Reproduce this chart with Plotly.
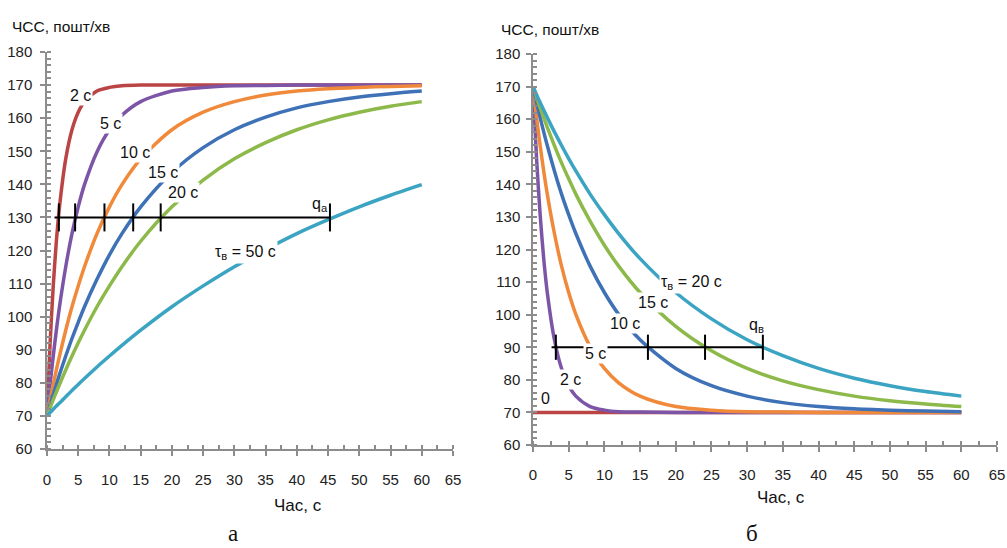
import plotly.graph_objects as go

# ---- data ----
t = [0, 0.5, 1, 1.5, 2, 3, 4, 5, 6, 8, 10, 12, 15, 20, 25, 30, 35, 40, 45, 50, 55, 60]

# panel а : rise
a_2 = [70, 92.1, 109.3, 122.8, 133.2, 147.7, 156.5, 161.8, 165.0, 168.2, 169.3, 169.8, 170, 170, 170, 170, 170, 170, 170, 170, 170, 170]
a_5 = [70, 79.5, 88.1, 95.9, 103.0, 115.1, 125.1, 133.2, 139.9, 149.8, 156.5, 160.9, 165.0, 168.2, 169.3, 169.8, 169.9, 170, 170, 170, 170, 170]
a_10 = [70, 74.9, 79.5, 83.9, 88.1, 95.9, 103.0, 109.3, 115.1, 125.1, 133.2, 139.9, 147.7, 156.5, 161.8, 165.0, 167.0, 168.2, 168.9, 169.3, 169.6, 169.8]
a_15 = [70, 73.3, 76.5, 79.5, 82.5, 88.1, 93.4, 98.3, 103.0, 111.3, 118.7, 125.1, 133.2, 143.6, 151.1, 156.5, 160.3, 163.1, 165.0, 166.4, 167.4, 168.2]
a_20 = [70, 72.5, 74.9, 77.2, 79.5, 83.9, 88.1, 92.1, 95.9, 103.0, 109.3, 115.1, 122.8, 133.2, 141.3, 147.7, 152.6, 156.5, 159.5, 161.8, 163.6, 165.0]
a_50 = [70, 71.0, 72.0, 73.0, 73.9, 75.8, 77.7, 79.5, 81.3, 84.8, 88.1, 91.3, 95.9, 103.0, 109.3, 115.1, 120.3, 125.1, 129.3, 133.2, 136.7, 139.9]

# panel б : recovery
b_0 = [70, 70, 70, 70, 70, 70, 70, 70, 70, 70, 70, 70, 70, 70, 70, 70, 70, 70, 70, 70, 70, 70]
b_2 = [170, 147.9, 130.7, 117.2, 106.8, 92.3, 83.5, 78.2, 75.0, 71.8, 70.7, 70.2, 70.1, 70, 70, 70, 70, 70, 70, 70, 70, 70]
b_5 = [170, 160.5, 151.9, 144.1, 137.0, 124.9, 114.9, 106.8, 100.1, 90.2, 83.5, 79.1, 75.0, 71.8, 70.7, 70.2, 70.1, 70, 70, 70, 70, 70]
b_10 = [170, 165.1, 160.5, 156.1, 151.9, 144.1, 137.0, 130.7, 124.9, 114.9, 106.8, 100.1, 92.3, 83.5, 78.2, 75.0, 73.0, 71.8, 71.1, 70.7, 70.4, 70.2]
b_15 = [170, 166.7, 163.5, 160.5, 157.5, 151.9, 146.6, 141.7, 137.0, 128.7, 121.3, 114.9, 106.8, 96.4, 88.9, 83.5, 79.7, 77.0, 75.0, 73.6, 72.6, 71.8]
b_20 = [170, 167.5, 165.1, 162.8, 160.5, 156.1, 151.9, 147.9, 144.1, 137.0, 130.7, 124.9, 117.2, 106.8, 98.7, 92.3, 87.4, 83.5, 80.5, 78.2, 76.4, 75.0]

# threshold lines
qa_line_x = [1.2, 45.3]
qa_level = 130
qa_ticks = [1.9, 4.5, 9.2, 13.8, 18.2, 45.3]
qb_line_x = [2.6, 32.2]
qb_level = 90
qb_ticks = [3.2, 16.1, 24.1, 32.2]

x_ticks = [0, 5, 10, 15, 20, 25, 30, 35, 40, 45, 50, 55, 60, 65]
y_ticks = [60, 70, 80, 90, 100, 110, 120, 130, 140, 150, 160, 170, 180]

colors = ["#BA4544", "#7D55A6", "#F0893A", "#3E71B6", "#8DB94B", "#3BA4C2"]

FONT = "Liberation Sans, Arial"
W, H = 1007, 548
def px_x(p):
    return p / W
def px_y(p):
    return 1 - p / H

fig = go.Figure()

for ys, c in zip([a_2, a_5, a_10, a_15, a_20, a_50], colors):
    fig.add_trace(go.Scatter(x=t, y=ys, mode="lines", line=dict(color=c, width=3.5, shape="spline", smoothing=0.8),
                             xaxis="x", yaxis="y", hoverinfo="skip"))
for ys, c in zip([b_0, b_2, b_5, b_10, b_15, b_20], colors):
    fig.add_trace(go.Scatter(x=t, y=ys, mode="lines", line=dict(color=c, width=3.5, shape="spline", smoothing=0.8),
                             xaxis="x2", yaxis="y2", hoverinfo="skip"))

fig.add_trace(go.Scatter(x=qa_line_x, y=[qa_level, qa_level], mode="lines", line=dict(color="black", width=2),
                         xaxis="x", yaxis="y"))
fig.add_trace(go.Scatter(x=qa_ticks, y=[qa_level] * len(qa_ticks), mode="markers",
                         marker=dict(symbol="line-ns", size=20, line=dict(color="black", width=2)),
                         xaxis="x", yaxis="y"))
fig.add_trace(go.Scatter(x=qb_line_x, y=[qb_level, qb_level], mode="lines", line=dict(color="black", width=2),
                         xaxis="x2", yaxis="y2"))
fig.add_trace(go.Scatter(x=qb_ticks, y=[qb_level] * len(qb_ticks), mode="markers",
                         marker=dict(symbol="line-ns", size=18, line=dict(color="black", width=2)),
                         xaxis="x2", yaxis="y2"))

axis_common = dict(showgrid=False, zeroline=False, showline=True, linecolor="#8C8C8C", linewidth=1.5,
                   ticks="outside", ticklen=5, tickcolor="#8C8C8C", tickwidth=1.5, automargin=False,
                   tickfont=dict(family=FONT, size=15, color="#222"))

fig.update_layout(
    width=W, height=H, margin=dict(l=0, r=0, t=0, b=0, autoexpand=False),
    paper_bgcolor="white", plot_bgcolor="white", showlegend=False,
    xaxis=dict(domain=[px_x(47), px_x(453)], range=[0, 65], tickvals=x_ticks, anchor="y",
               minor=dict(dtick=2.5, ticks="inside", ticklen=4, tickcolor="#8C8C8C"),
               ticklabelstandoff=11, **axis_common),
    yaxis=dict(domain=[px_y(449), px_y(52)], range=[60, 180], tickvals=y_ticks, anchor="x",
               minor=dict(dtick=2, ticks="inside", ticklen=4, tickcolor="#8C8C8C"),
               ticklabelstandoff=5, **axis_common),
    xaxis2=dict(domain=[px_x(533), px_x(997)], range=[0, 65], tickvals=x_ticks, anchor="y2",
                minor=dict(dtick=2.5, ticks="inside", ticklen=4, tickcolor="#8C8C8C"),
                ticklabelstandoff=10, **axis_common),
    yaxis2=dict(domain=[px_y(445), px_y(54)], range=[60, 180], tickvals=y_ticks, anchor="x2",
                minor=dict(dtick=2, ticks="inside", ticklen=4, tickcolor="#8C8C8C"),
                ticklabelstandoff=3, **axis_common),
)

lab_font = dict(family=FONT, size=16, color="#111")
ann = []
def lab(text, x, y, xr, yr, bg="white"):
    ann.append(dict(text=text, x=x, y=y, xref=xr, yref=yr, showarrow=False, font=lab_font,
                    bgcolor=bg, borderpad=1))

lab("2 с", 5.3, 167, "x", "y")
lab("5 с", 10.1, 158.5, "x", "y")
lab("10 с", 14.1, 149.5, "x", "y")
lab("15 с", 18.6, 143.7, "x", "y")
lab("20 с", 21.8, 137.4, "x", "y")
lab("q<sub>а</sub>", 43.7, 133.9, "x", "y", "rgba(0,0,0,0)")
lab("τ<sub>в</sub> = 50 с", 31.7, 119.5, "x", "y")

lab("τ<sub>в</sub> = 20 с", 22.2, 110, "x2", "y2")
lab("15 с", 16.8, 103.6, "x2", "y2")
lab("10 с", 12.9, 97.4, "x2", "y2")
lab("q<sub>в</sub>", 31.3, 96.6, "x2", "y2", "rgba(0,0,0,0)")
lab("5 с", 8.7, 88.2, "x2", "y2")
lab("2 с", 5.2, 80, "x2", "y2")
lab("0", 1.7, 74.4, "x2", "y2")

def pix(text, x, y, size=16, family=FONT):
    ann.append(dict(text=text, x=px_x(x), y=px_y(y), xref="paper", yref="paper", showarrow=False,
                    font=dict(family=family, size=size, color="#111"), xanchor="center", yanchor="middle"))

pix("ЧСС, пошт/хв", 61, 26, 15.5)
pix("ЧСС, пошт/хв", 550, 29, 15.5)
pix("Час, с", 298, 505, 17)
pix("Час, с", 781, 497, 17)
pix("а", 233, 533, 23, "Liberation Serif, Times New Roman, serif")
pix("б", 752, 533, 23, "Liberation Serif, Times New Roman, serif")

fig.update_layout(annotations=ann)
fig.write_html("out.html", config={"displayModeBar": False},
               post_script="document.body.style.margin='0';document.body.style.overflow='hidden';")
